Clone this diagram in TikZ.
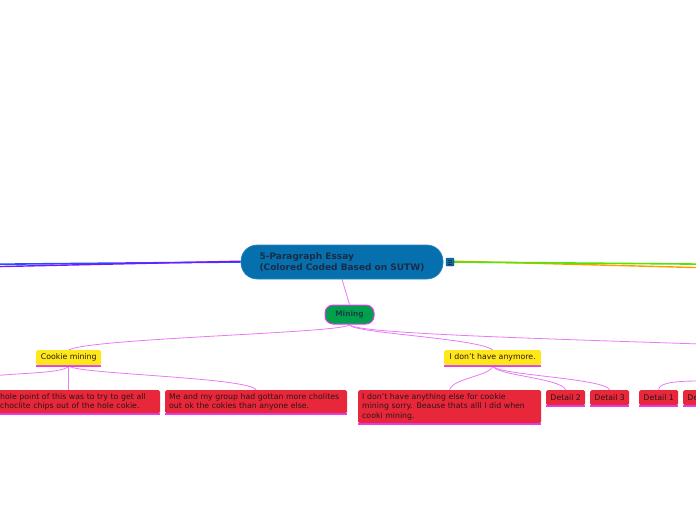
\documentclass[tikz,border=0pt]{standalone}
\usepackage{fontspec}
\setmainfont{DejaVu Sans}
\usetikzlibrary{backgrounds}
\definecolor{cblue}{HTML}{0670AE}
\definecolor{cblueb}{HTML}{2A86C0}
\definecolor{ctext}{HTML}{1B2B44}
\definecolor{mgreen}{HTML}{00A04C}
\definecolor{mag}{HTML}{E63CF0}
\definecolor{linkmag}{HTML}{E87AF4}
\definecolor{boxred}{HTML}{E8283A}
\definecolor{boxyel}{HTML}{FFE81A}
\definecolor{txt}{HTML}{2A1418}
\definecolor{lblue}{HTML}{2A4CFF}
\definecolor{lpurp}{HTML}{7418FF}
\definecolor{lgreen}{HTML}{52E600}
\definecolor{lorange}{HTML}{FF9C00}
\tikzset{
  base/.style={anchor=north west, font=\fontsize{7.8}{9.6}\selectfont, text=txt,
    inner xsep=4pt, inner ysep=0pt, rounded corners=1.5pt,
    append after command={\pgfextra{\draw[mag, line width=1.3pt]
      ([yshift=-0.7pt]\tikzlastnode.south west) -- ([yshift=-0.7pt]\tikzlastnode.south east);}}},
  redbox/.style={base, fill=boxred},
  yelbox/.style={base, fill=boxyel, minimum height=15pt},
  smallred/.style={redbox, minimum width=39pt, minimum height=15pt, inner xsep=0pt},
  link/.style={draw=linkmag, line width=0.8pt},
}
\begin{document}
\begin{tikzpicture}[x=1pt, y=-1pt]
\useasboundingbox (0,0) rectangle (696,520);
\clip (0,0) rectangle (696,520);

% central topic
\node[fill=cblue, draw=cblueb, line width=0.6pt, rounded corners=16pt,
      minimum width=202pt, minimum height=34pt, inner sep=0pt,
      font=\bfseries\fontsize{9}{11}\selectfont, text=ctext, align=left]
  (center) at (342,262) {5-Paragraph Essay\\(Colored Coded Based on SUTW)};
% collapse toggle
\node[fill=cblue, draw=ctext!70!cblue, line width=0.4pt, minimum size=8pt, inner sep=0pt,
      rounded corners=1pt] (tog) at (450,262) {};
\draw[ctext, line width=0.7pt] ([xshift=-2.3pt,yshift=-2pt]tog.center) -- ([xshift=2.3pt,yshift=-2pt]tog.center)
  ([xshift=-2.3pt]tog.center) -- ([xshift=2.3pt]tog.center)
  ([xshift=-2.3pt,yshift=2pt]tog.center) -- ([xshift=2.3pt,yshift=2pt]tog.center);

% Mining
\node[fill=mgreen, draw=mag, line width=1pt, rounded corners=8pt,
      minimum width=49pt, minimum height=19pt, inner sep=0pt,
      font=\bfseries\fontsize{7.4}{8}\selectfont, text=ctext!80!mgreen] (mining) at (349.5,314.5) {Mining};

% level 2
\node[yelbox, minimum width=65pt, inner xsep=0pt] (cookie) at (36,350) {Cookie mining};
\node[yelbox, minimum width=97pt, inner xsep=0pt] (dont) at (444,350) {I don't have anymore.};

% level 3
\node[redbox, text width=156pt, minimum height=23pt, align=left, inner xsep=4pt] (r1) at (-4,390)
  {\mbox{hole point of this was to try to get all}\\\mbox{choclite chips out of the hole cokie.}};
\node[redbox, text width=174pt, minimum height=23pt, align=left] (r2) at (165,390)
  {\mbox{Me and my group had gottan more cholites}\\\mbox{out ok the cokies than anyone else.}};
\node[redbox, text width=175pt, minimum height=33pt, align=left] (r3) at (358,390)
  {\mbox{I don't have anything else for cookie}\\\mbox{mining sorry. Beause thats alll I did when}\\\mbox{cooki mining.}};
\node[smallred] (d2) at (546,390) {Detail 2};
\node[smallred] (d3) at (590,390) {Detail 3};
\node[smallred] (d1) at (639,390) {Detail 1};
\node[smallred] (d2b) at (683,390) {Detail 2};

% free ends
\coordinate (leftA) at (-2,264.2);
\coordinate (leftB) at (-2,266.6);
\coordinate (rightA) at (698,264.1);
\coordinate (rightB) at (698,267.6);
\coordinate (rightM) at (700,344);
\coordinate (leftC) at (-2,375.5);
\coordinate (rightD) at (700,381);

\begin{scope}[on background layer]
  \draw[lblue, line width=1.6pt] (center.west) -- (leftA);
  \draw[lpurp, line width=1.4pt] ([yshift=0.8pt]center.west) -- (leftB);
  \draw[lorange, line width=1.4pt] ([yshift=0.8pt]tog.east) -- (rightB);
  \draw[lgreen, line width=1.6pt] (tog.east) -- (rightA);
  \draw[linkmag, line width=0.8pt] (center.south) -- (mining.north);
  % mining branches
  \draw[link] (mining.south) .. controls (349,333) and (90,338) .. (cookie.north);
  \draw[link] (mining.south) .. controls (349,333) and (478,338) .. (dont.north);
  \draw[link] (mining.south) .. controls (352,333) and (520,338) .. (rightM);
  % cookie branches
  \draw[link] (cookie.south) -- (r1.north -| cookie.south);
  \draw[link] (cookie.south) .. controls (68,373) and (20,373) .. (leftC);
  \draw[link] (cookie.south) .. controls (68,374) and (250,377) .. (r2.north);
  % dont branches
  \draw[link] (dont.south) .. controls (492,376) and (452,378) .. (r3.north);
  \draw[link] (dont.south) .. controls (492,375) and (562,378) .. (d2.north);
  \draw[link] (dont.south) .. controls (492,375) and (606,378) .. (d3.north);
  \draw[link] (rightD) .. controls (680,381) and (658,382) .. (d1.north);
\end{scope}
\end{tikzpicture}
\end{document}
